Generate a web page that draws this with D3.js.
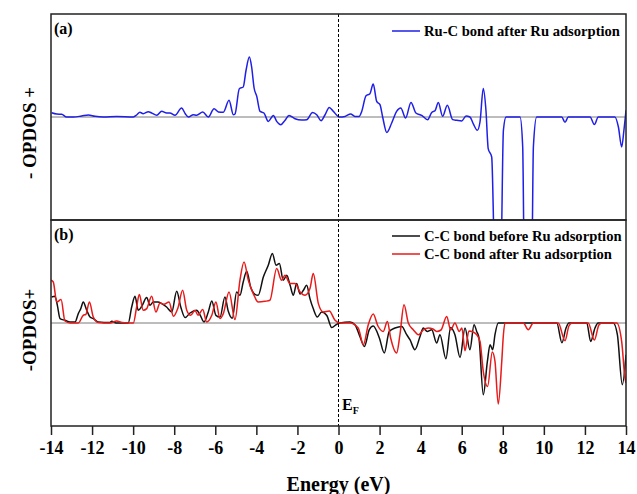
<!DOCTYPE html>
<html>
<head>
<meta charset="utf-8">
<script src="https://cdn.jsdelivr.net/npm/d3@7"></script>
<style>
  body { margin: 0; background: #fff; }
  text { font-family: "Liberation Serif", "Times New Roman", serif; font-weight: bold; }
</style>
</head>
<body>
<svg id="chart" width="637" height="494"></svg>
<script>
// energies (eV) and OPDOS values (arbitrary units)
var ruE = [-13.97,-13.72,-13.48,-13.24,-12.91,-12.51,-12.18,-11.86,-11.45,-10.80,-9.99,-9.83,-9.67,-9.51,-9.26,-9.10,-8.85,-8.61,-8.37,-8.21,-7.96,-7.64,-7.47,-7.31,-7.07,-6.91,-6.61,-6.34,-6.06,-5.85,-5.61,-5.33,-5.12,-5.04,-4.83,-4.64,-4.50,-4.34,-4.23,-4.11,-3.98,-3.82,-3.63,-3.42,-3.17,-3.01,-2.81,-2.61,-2.41,-2.12,-1.79,-1.55,-1.26,-1.06,-0.85,-0.66,-0.45,-0.25,0.04,0.32,0.59,0.80,1.00,1.13,1.34,1.53,1.69,1.86,2.02,2.15,2.35,2.59,2.83,3.03,3.27,3.53,3.77,4.05,4.34,4.54,4.70,4.86,5.07,5.30,5.56,5.76,6.00,6.21,6.40,6.56,6.76,6.89,7.05,7.18,7.29,7.46,7.62,7.90,8.03,8.16,8.84,8.97,9.05,9.41,9.49,9.65,10.87,11.03,11.19,12.25,12.46,12.65,13.46,13.63,13.79,13.90,14.0];
var ruC = [4.3,3,2.7,0,0,1,2,0.7,0,0.5,0,2,4.7,3.3,5.3,4,1.7,5.7,4,4,1.7,9,3.5,0,2.3,1.7,5,0,8.3,5,4.7,16.7,2.3,3,28.3,30,47,60,50,29,20.6,5.6,4,-4.4,1.6,-4.4,-7.7,-3.4,1.6,-1.7,-3,-2.7,4.6,2.3,-3.7,2,9.6,5.6,0,0.6,3,0.6,0.6,5.6,21.3,23.3,33,15.6,12.3,0,-15.4,-6,5.6,9,-1,14.6,4,1.7,-2.7,4.6,6.3,14.4,0.7,11.7,-2.6,-3.3,-4,1,0,-6.6,-13.3,-5,28.4,6.7,-31.6,-40,-150,-150,-13.3,0,0,-30,-150,-150,-30,0,0,-5.3,0,0,-7.6,0,0,-10,-30,-13,6.7];

var ccBeforeE = [-13.97,-13.81,-13.69,-13.56,-13.32,-13.07,-12.83,-12.67,-12.55,-12.43,-12.26,-12.10,-11.94,-11.70,-11.13,-11.04,-10.83,-10.24,-10.07,-9.91,-9.75,-9.58,-9.34,-9.18,-9.02,-8.79,-8.61,-8.37,-8.12,-7.88,-7.68,-7.47,-7.23,-6.91,-6.74,-6.55,-6.34,-6.17,-5.97,-5.77,-5.53,-5.37,-5.17,-4.96,-4.80,-4.64,-4.47,-4.28,-4.07,-3.91,-3.66,-3.42,-3.22,-3.04,-2.88,-2.69,-2.52,-2.36,-2.20,-2.04,-1.87,-1.71,-1.55,-1.39,-1.23,-1.03,-0.82,-0.57,-0.33,-0.09,0.07,0.56,0.80,1.04,1.26,1.50,1.69,1.99,2.23,2.47,2.75,3.08,3.32,3.48,3.72,3.97,4.13,4.32,4.54,4.78,4.94,5.23,5.46,5.67,5.92,6.16,6.40,6.60,6.73,6.84,7.05,7.25,7.38,7.51,7.62,7.78,10.63,10.88,11.08,11.22,12.09,12.28,12.49,12.64,13.38,13.58,13.82,14.0];
var ccBefore = [26,26.7,17.7,4.4,2.7,1,1,9.4,14.4,21,12.7,6,4.4,1,0.5,1.7,0,0,16,26.7,12.7,16.7,25.4,17.7,21,21,19.4,16,11,31.7,16,5.4,10,12.7,8,1,11,22,7.7,6,26,12,4.7,31,27.7,41,51.7,36,28.7,27.7,46,57.7,69.4,57.7,59.4,42.7,47.7,38,27.7,39.4,29,32.7,37.7,24.4,14.4,6,11,7.5,-4.6,-1.3,0,1,-1.7,-13.4,-23.4,-6.7,-3,-15,-30,-8.4,-5,-3.4,-11.7,-16.7,-26.7,-13.4,-5,-8.4,-6.7,-20,-11.7,-35.7,-4.4,-11.7,-34.4,-5,-26.7,-1.7,-8.4,-15,-71.7,-38.4,-21.7,-26.7,-11.7,0,0,-19.7,-5,0,0,-18.4,-5,0,0,-11.7,-61.7,-31.7];

var ccAfterE = [-14.0,-13.89,-13.72,-13.51,-13.32,-13.07,-12.67,-12.43,-12.30,-12.13,-11.94,-11.70,-11.13,-10.80,-10.54,-9.99,-9.83,-9.70,-9.51,-9.34,-9.10,-8.89,-8.69,-8.50,-8.25,-8.04,-7.82,-7.59,-7.39,-7.20,-6.99,-6.84,-6.61,-6.42,-6.17,-5.97,-5.77,-5.61,-5.33,-5.04,-4.80,-4.60,-4.39,-4.15,-3.91,-3.58,-3.34,-3.01,-2.77,-2.61,-2.36,-2.12,-1.87,-1.63,-1.39,-1.23,-0.98,-0.74,-0.45,-0.17,0.07,0.56,0.96,1.21,1.45,1.69,1.92,2.18,2.38,2.54,2.83,2.99,3.19,3.40,3.64,3.89,4.13,4.37,4.60,4.78,4.99,5.27,5.46,5.67,5.88,6.01,6.16,6.35,6.55,6.73,6.89,7.05,7.26,7.49,7.62,7.78,7.95,8.03,8.11,9.00,9.24,9.49,10.70,11.03,11.22,11.37,12.16,12.46,12.68,12.83,13.55,13.79,13.95,14.0];
var ccAfter = [42.7,41,21,23.4,2,0,0,7.7,8.7,21,6,0.5,0,2,0.5,0,16,28.4,12.7,14.4,26.7,11,20,18.7,21,6.7,15,32.7,12.7,7.7,12.7,7.7,13.4,1,7.7,21,4.4,9.4,31,3.4,42.7,61,42.7,29.4,21,21.7,22.7,54.4,42.7,47.7,39.4,39.4,31,27.7,34.4,49.4,19.4,11,12,2.7,0,0,-5,-21.7,-1.7,9,-3,-8.4,1.6,-15,-30,-12,18.3,0,-6.7,-11.7,-7,-5,-6,-8.4,-7,6.6,-7,0,-8.4,-5,-27.7,-8,-9,-11.7,-18.4,-48.4,-63.4,-29,-38.4,-81,-38.4,-11.7,0,0,-6.7,0,0,-17.7,-3,0,0,-17,-2,0,0,-18.7,-55,-60];

var xTicks = d3.range(-14, 15, 2);

var svg = d3.select('#chart');
var left = 51, right = 626;
var panels = [
  { top: 14, bottom: 220, label: '(a)', ylabel: '- OPDOS +', ylabelY: 133 },
  { top: 220, bottom: 426, label: '(b)', ylabel: '-OPDOS+', ylabelY: 330 }
];

var x = d3.scaleLinear().domain([-14, 14]).range([left, right]);

panels.forEach(function(p, i) {
  p.y = d3.scaleLinear().domain([-103, 103]).range([p.bottom, p.top]);
  svg.append('clipPath').attr('id', 'clip' + i)
    .append('rect')
    .attr('x', left).attr('y', p.top)
    .attr('width', right - left).attr('height', p.bottom - p.top);
});

var line = function(y, xs) {
  return d3.line()
    .x(function(d, i) { return x(xs[i]); })
    .y(function(d) { return y(d); })
    .curve(d3.curveMonotoneX);
};

// zero baselines
panels.forEach(function(p) {
  svg.append('line')
    .attr('x1', left).attr('x2', right)
    .attr('y1', p.y(0)).attr('y2', p.y(0))
    .attr('stroke', '#7a7a7a').attr('stroke-width', 1);
});

// curves
var pa = panels[0], pb = panels[1];
svg.append('path').datum(ruC)
  .attr('clip-path', 'url(#clip0)')
  .attr('d', line(pa.y, ruE))
  .attr('fill', 'none').attr('stroke', '#1f1fe8').attr('stroke-width', 1.5);

svg.append('path').datum(ccBefore)
  .attr('clip-path', 'url(#clip1)')
  .attr('d', line(pb.y, ccBeforeE))
  .attr('fill', 'none').attr('stroke', '#111').attr('stroke-width', 1.5);

svg.append('path').datum(ccAfter)
  .attr('clip-path', 'url(#clip1)')
  .attr('d', line(pb.y, ccAfterE))
  .attr('fill', 'none').attr('stroke', '#e81a1a').attr('stroke-width', 1.5);

// Fermi level
svg.append('line')
  .attr('x1', x(0)).attr('x2', x(0))
  .attr('y1', pa.top).attr('y2', pb.bottom)
  .attr('stroke', '#000').attr('stroke-width', 1)
  .attr('stroke-dasharray', '3,2');

// frames
panels.forEach(function(p) {
  svg.append('rect')
    .attr('x', left).attr('y', p.top)
    .attr('width', right - left).attr('height', p.bottom - p.top)
    .attr('fill', 'none').attr('stroke', '#222').attr('stroke-width', 1.5);

  svg.append('text')
    .attr('x', 54).attr('y', p.top + 20)
    .attr('font-size', 16)
    .text(p.label);

  svg.append('text')
    .attr('transform', 'translate(36,' + p.ylabelY + ') rotate(-90)')
    .attr('text-anchor', 'middle')
    .attr('font-size', 19)
    .text(p.ylabel);
});

// bottom axis
var axis = svg.append('g')
  .attr('transform', 'translate(0,' + pb.bottom + ')')
  .call(d3.axisBottom(x).tickValues(xTicks).tickSize(9).tickPadding(6)
    .tickFormat(function(d) { return d; }));
axis.select('.domain').remove();
axis.selectAll('line').attr('stroke', '#222').attr('stroke-width', 1.5);
axis.selectAll('text')
  .attr('font-size', 18)
  .attr('font-family', '"Liberation Serif", serif')
  .attr('font-weight', 'bold')
  .attr('fill', '#000');

svg.append('text')
  .attr('x', x(0)).attr('y', 491)
  .attr('text-anchor', 'middle')
  .attr('font-size', 20)
  .text('Energy (eV)');

// E_F label
var ef = svg.append('text').attr('x', 342).attr('y', 410).attr('font-size', 16);
ef.append('tspan').text('E');
ef.append('tspan').attr('font-size', 10).attr('dy', 4).text('F');

// legends
var legends = [
  { y: 31, color: '#1f1fe8', text: 'Ru-C bond after Ru adsorption' },
  { y: 236, color: '#111', text: 'C-C bond before Ru adsorption' },
  { y: 254, color: '#e81a1a', text: 'C-C bond after Ru adsorption' }
];
legends.forEach(function(l) {
  svg.append('line')
    .attr('x1', 392).attr('x2', 420)
    .attr('y1', l.y).attr('y2', l.y)
    .attr('stroke', l.color).attr('stroke-width', 1.5);
  svg.append('text')
    .attr('x', 424).attr('y', l.y + 5)
    .attr('font-size', 14.6)
    .text(l.text);
});
</script>
</body>
</html>
